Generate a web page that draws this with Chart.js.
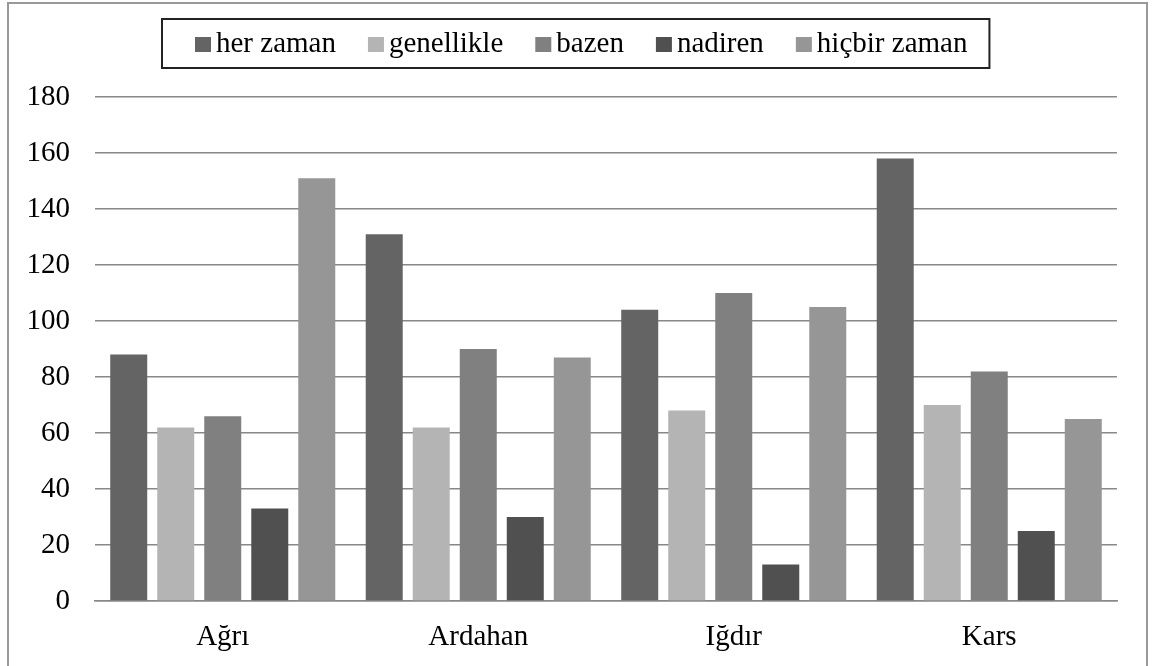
<!DOCTYPE html>
<html>
<head>
<meta charset="utf-8">
<script src="https://cdn.jsdelivr.net/npm/chart.js@4/dist/chart.umd.min.js"></script>
<style>
  html, body { margin: 0; padding: 0; background: #fff; }
  #wrap { position: relative; width: 1160px; height: 666px; overflow: hidden; }
  #frame {
    position: absolute; left: 7px; top: 2px; width: 1137px; height: 700px;
    border: 2px solid #999; pointer-events: none;
  }
  #chart { position: absolute; left: 0; top: 0; }
</style>
</head>
<body>
<div id="wrap">
  <canvas id="chart" width="1160" height="666"></canvas>
  <div id="frame"></div>
</div>
<script>
const regions = ['Ağrı', 'Ardahan', 'Iğdır', 'Kars'];
const seriesNames = ['her zaman', 'genellikle', 'bazen', 'nadiren', 'hiçbir zaman'];
const seriesColors = ['#646464', '#b4b4b4', '#808080', '#505050', '#969696'];

const herZaman    = [88, 131, 104, 158];
const genellikle  = [62, 62, 68, 70];
const bazen       = [66, 90, 110, 82];
const nadiren     = [33, 30, 13, 25];
const hicbirZaman = [151, 87, 105, 65];

const yTicks = [0, 20, 40, 60, 80, 100, 120, 140, 160, 180];

const values = [herZaman, genellikle, bazen, nadiren, hicbirZaman];
const fontFamily = "'Liberation Serif', 'Times New Roman', serif";
const font = { family: fontFamily, size: 29 };
const gridColor = '#888888';

// boxed legend across the top, drawn from the datasets
const boxedLegend = {
    id: 'boxedLegend',
    afterDraw(chart) {
        const ctx = chart.ctx;
        const left = 162, top = 19, height = 49;
        const padL = 33, padR = 22, sw = 16, gap = 5, spacing = 32;
        ctx.save();
        ctx.font = '29px ' + fontFamily;
        const items = chart.data.datasets.map(ds => ({
            label: ds.label, color: ds.backgroundColor, w: ctx.measureText(ds.label).width
        }));
        let width = padL + padR;
        items.forEach((it, i) => { width += sw + gap + it.w + (i ? spacing : 0); });

        ctx.fillStyle = '#fff';
        ctx.fillRect(left, top, width, height);
        ctx.strokeStyle = '#222';
        ctx.lineWidth = 2;
        ctx.strokeRect(left, top, width, height);

        let x = left + padL;
        ctx.textBaseline = 'alphabetic';
        items.forEach(it => {
            ctx.fillStyle = it.color;
            ctx.fillRect(x, top + 18, sw, 15);
            ctx.fillStyle = '#000';
            ctx.fillText(it.label, x + sw + gap, top + 33);
            x += sw + gap + it.w + spacing;
        });
        ctx.restore();
    }
};

const chart = new Chart(document.getElementById('chart'), {
    type: 'bar',
    data: {
        labels: regions,
        datasets: seriesNames.map((name, i) => ({
            label: name,
            data: values[i],
            backgroundColor: seriesColors[i],
            borderWidth: 0,
            barPercentage: 0.787,
            categoryPercentage: 0.92,
        }))
    },
    options: {
        responsive: false,
        animation: false,
        layout: { padding: { top: 97, right: 43, left: 0, bottom: 0 } },
        plugins: {
            legend: { display: false },
            tooltip: { enabled: false }
        },
        scales: {
            x: {
                grid: { display: false, drawTicks: false },
                border: { color: gridColor, width: 1.5 },
                ticks: { color: '#000', font: font, padding: 19 },
                afterFit: s => { s.height = 65; }
            },
            y: {
                min: 0,
                max: 180,
                afterBuildTicks: s => { s.ticks = yTicks.map(v => ({ value: v })); },
                grid: { color: gridColor, lineWidth: 1.5, drawTicks: false },
                border: { display: false },
                ticks: { color: '#000', font: font, padding: 25 },
                afterFit: s => { s.width = 95; }
            }
        }
    },
    plugins: [boxedLegend]
});
</script>
</body>
</html>
